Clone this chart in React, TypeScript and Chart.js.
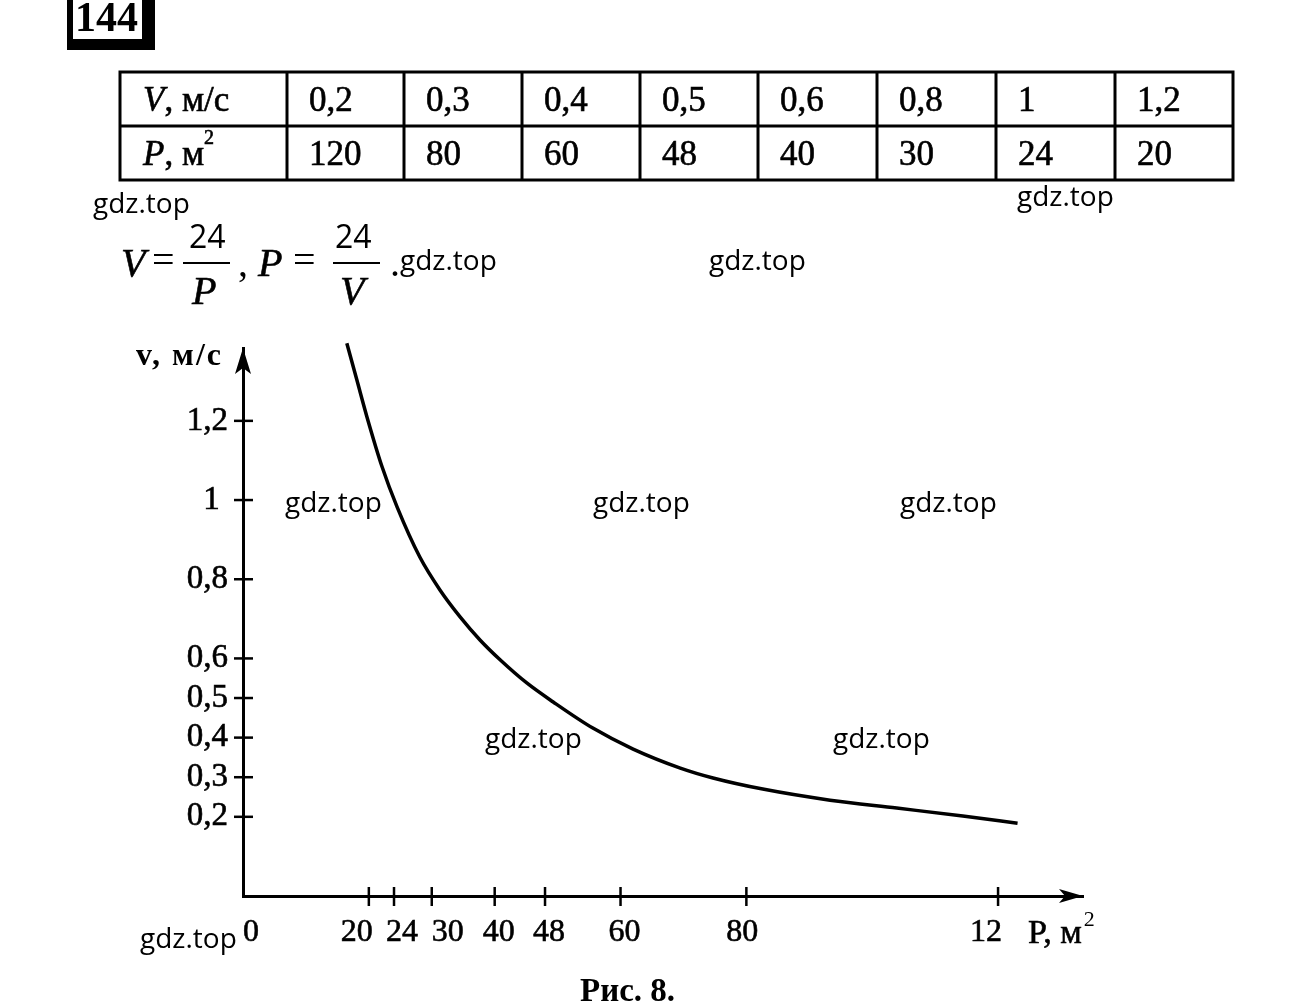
import React, { useEffect, useRef } from "react";
import { Chart, registerables } from "chart.js";

Chart.register(...registerables);

// ---- data ----
const curveP = [16.5, 18.1, 19.7, 22.1, 24.5, 28.1, 31.3, 34.5, 37.7, 40.9, 45.1, 49.3, 55.6, 62.0, 69.5, 74.7, 82.6, 93.3, 103.9, 114.4, 123.1];
const curveV = [1.396, 1.303, 1.21, 1.084, 0.982, 0.856, 0.773, 0.705, 0.646, 0.596, 0.538, 0.49, 0.424, 0.371, 0.323, 0.298, 0.27, 0.242, 0.222, 0.202, 0.184];
const xTickValues = [0, 20, 24, 30, 40, 48, 60, 80, 120];
const xTickLabels = ["0", "20", "24", "30", "40", "48", "60", "80", "12"];
const yTickValues = [0.2, 0.3, 0.4, 0.5, 0.6, 0.8, 1, 1.2];
const yTickLabels = ["0,2", "0,3", "0,4", "0,5", "0,6", "0,8", "1", "1,2"];
const tableV = ["0,2", "0,3", "0,4", "0,5", "0,6", "0,8", "1", "1,2"];
const tableP = ["120", "80", "60", "48", "40", "30", "24", "20"];
const xMax = 133.5;
const yMax = 1.384;

const SERIF = '"Liberation Serif", "Times New Roman", serif';
const SANS = '"Open Sans", "Liberation Sans", sans-serif';

// label nudges in spaces (style only): positive = leading spaces, negative = trailing
const xLabelNudge = [2, -3, 2, 4, 1, 1, 1, -1, -3];
const nudge = (s: string, n: number) => (n > 0 ? " ".repeat(n) + s : s + " ".repeat(-n));

const axisDecor = {
  id: "axisDecor",
  afterDraw(chart: any) {
    const { ctx, chartArea: a } = chart;
    const xs = chart.scales.x;
    const ys = chart.scales.y;
    ctx.save();
    ctx.fillStyle = "#000";
    ctx.strokeStyle = "#000";
    // arrow heads
    ctx.beginPath();
    ctx.moveTo(a.left, a.top);
    ctx.lineTo(a.left + 8, a.top + 26);
    ctx.lineTo(a.left, a.top + 20);
    ctx.lineTo(a.left - 8, a.top + 26);
    ctx.closePath();
    ctx.fill();
    ctx.beginPath();
    ctx.moveTo(a.right, a.bottom);
    ctx.lineTo(a.right - 24, a.bottom - 7);
    ctx.lineTo(a.right - 18, a.bottom);
    ctx.lineTo(a.right - 24, a.bottom + 7);
    ctx.closePath();
    ctx.fill();
    // crossing tick marks
    ctx.lineWidth = 2.5;
    ys.ticks.forEach((t: any) => {
      const p = ys.getPixelForValue(t.value);
      ctx.beginPath();
      ctx.moveTo(a.left - 9, p);
      ctx.lineTo(a.left + 10, p);
      ctx.stroke();
    });
    xs.ticks.forEach((t: any) => {
      if (t.value === 0) return;
      const p = xs.getPixelForValue(t.value);
      ctx.beginPath();
      ctx.moveTo(p, a.bottom - 9);
      ctx.lineTo(p, a.bottom + 10);
      ctx.stroke();
    });
    // axis titles
    ctx.textBaseline = "alphabetic";
    ctx.font = `bold 32px ${SERIF}`;
    ctx.textAlign = "right";
    ctx.letterSpacing = "2px";
    ctx.fillText("v, м/с", a.left - 20, a.top + 17);
    ctx.letterSpacing = "0px";
    ctx.textAlign = "left";
    ctx.font = `34px ${SERIF}`;
    ctx.lineWidth = 0.6;
    const base = "P, м";
    const x0 = a.right - 55;
    ctx.fillText(base, x0, a.bottom + 47);
    ctx.strokeText(base, x0, a.bottom + 47);
    const w = ctx.measureText(base).width;
    ctx.font = `22px ${SERIF}`;
    ctx.fillText("2", x0 + w + 2, a.bottom + 30);
    ctx.restore();
  },
};

export default function App() {
  const ref = useRef<HTMLCanvasElement>(null);

  useEffect(() => {
    const chart = new Chart(ref.current as HTMLCanvasElement, {
      type: "line",
      data: {
        datasets: [
          {
            data: curveP.map((p, i) => ({ x: p, y: curveV[i] })),
            borderColor: "#000",
            borderWidth: 3.5,
            pointRadius: 0,
            cubicInterpolationMode: "monotone",
            fill: false,
            clip: false as any,
          },
        ],
      },
      options: {
        responsive: false,
        animation: false,
        layout: { padding: { left: 0, top: 348, right: 213, bottom: 0 } },
        plugins: { legend: { display: false }, tooltip: { enabled: false } },
        scales: {
          x: {
            type: "linear",
            min: 0,
            max: xMax,
            afterBuildTicks: (s: any) => {
              s.ticks = xTickValues.map((v) => ({ value: v }));
            },
            afterFit: (s: any) => {
              s.height = 112;
            },
            grid: { display: false, drawTicks: false },
            border: { display: true, color: "#000", width: 3 },
            ticks: {
              autoSkip: false,
              maxRotation: 0,
              minRotation: 0,
              padding: 17,
              color: "#000",
              textStrokeColor: "#000",
              textStrokeWidth: 0.6,
              font: { family: SERIF, size: 32 },
              callback: (v: any) => {
                const i = xTickValues.indexOf(Number(v));
                return i < 0 ? "" : nudge(xTickLabels[i], xLabelNudge[i]);
              },
            },
          },
          y: {
            type: "linear",
            min: 0,
            max: yMax,
            afterBuildTicks: (s: any) => {
              s.ticks = yTickValues.map((v) => ({ value: v }));
            },
            afterFit: (s: any) => {
              s.width = 243;
            },
            grid: { display: false, drawTicks: false },
            border: { display: true, color: "#000", width: 3 },
            ticks: {
              autoSkip: false,
              padding: 15,
              color: "#000",
              textStrokeColor: "#000",
              textStrokeWidth: 0.6,
              font: { family: SERIF, size: 33 },
              callback: (v: any) => {
                const i = yTickValues.indexOf(Number(v));
                if (i < 0) return "";
                const l = yTickLabels[i];
                return l.length === 1 ? l + " " : l;
              },
            },
          },
        },
      },
      plugins: [axisDecor as any],
    });
    return () => chart.destroy();
  }, []);

  const colEdges = [120, 287, 404, 522, 640, 758, 877, 996, 1115, 1233];
  const watermarks: [number, number][] = [
    [93, 213],
    [1017, 206],
    [400, 270],
    [709, 270],
    [285, 512],
    [593, 512],
    [900, 512],
    [485, 748],
    [833, 748],
    [140, 948],
  ];
  const heavy = { stroke: "#000", strokeWidth: 0.6 };

  return (
    <div
      style={{
        position: "absolute",
        left: 0,
        top: 0,
        width: 1296,
        height: 1008,
        background: "#fff",
        overflow: "hidden",
      }}
    >
      <canvas
        ref={ref}
        width={1296}
        height={1008}
        style={{ position: "absolute", left: 0, top: 0, width: 1296, height: 1008 }}
      />
      <svg
        width={1296}
        height={1008}
        style={{ position: "absolute", left: 0, top: 0 }}
        fontFamily={SERIF}
      >
        {/* number box */}
        <rect x={67} y={-10} width={88} height={60} fill="#000" />
        <rect x={73} y={-10} width={69} height={49} fill="#fff" />
        <text x={75} y={31} fontSize={42} fontWeight="bold">
          144
        </text>

        {/* table */}
        <rect x={120} y={72} width={1113} height={108} fill="none" stroke="#000" strokeWidth={3} />
        <line x1={120} y1={126} x2={1233} y2={126} stroke="#000" strokeWidth={3} />
        {colEdges.slice(1, -1).map((x) => (
          <line key={x} x1={x} y1={72} x2={x} y2={180} stroke="#000" strokeWidth={3} />
        ))}
        <text x={143} y={111} fontSize={35} {...heavy}>
          <tspan fontStyle="italic">V</tspan>, м/с
        </text>
        <text x={143} y={165} fontSize={35} {...heavy}>
          <tspan fontStyle="italic">P</tspan>, м
          <tspan dy={-21} fontSize={20}>
            2
          </tspan>
        </text>
        {tableV.map((v, i) => (
          <text key={"v" + i} x={colEdges[i + 1] + 22} y={111} fontSize={35} {...heavy}>
            {v}
          </text>
        ))}
        {tableP.map((p, i) => (
          <text key={"p" + i} x={colEdges[i + 1] + 22} y={165} fontSize={35} {...heavy}>
            {p}
          </text>
        ))}

        {/* formulas */}
        <text x={121} y={276} fontSize={40} fontStyle="italic" {...heavy}>
          V
        </text>
        <text x={152} y={273} fontSize={40}>
          =
        </text>
        <text x={189} y={248} fontSize={32} fontFamily={SANS}>
          24
        </text>
        <line x1={183} y1={263} x2={230} y2={263} stroke="#000" strokeWidth={2} />
        <text x={192} y={304} fontSize={40} fontStyle="italic" {...heavy}>
          P
        </text>
        <text x={238} y={276} fontSize={40}>
          ,
        </text>
        <text x={258} y={276} fontSize={40} fontStyle="italic" {...heavy}>
          P
        </text>
        <text x={293} y={273} fontSize={40}>
          =
        </text>
        <text x={335} y={248} fontSize={32} fontFamily={SANS}>
          24
        </text>
        <line x1={333} y1={263} x2={380} y2={263} stroke="#000" strokeWidth={2} />
        <text x={340} y={304} fontSize={40} fontStyle="italic" {...heavy}>
          V
        </text>
        <text x={390} y={276} fontSize={40}>
          .
        </text>

        {/* watermarks */}
        {watermarks.map(([x, y], i) => (
          <text key={"w" + i} x={x} y={y} fontSize={28} fontFamily={SANS} fill="#000">
            gdz.top
          </text>
        ))}

        {/* caption */}
        <text x={580} y={1001} fontSize={33} fontWeight="bold">
          Рис. 8.
        </text>
      </svg>
    </div>
  );
}
